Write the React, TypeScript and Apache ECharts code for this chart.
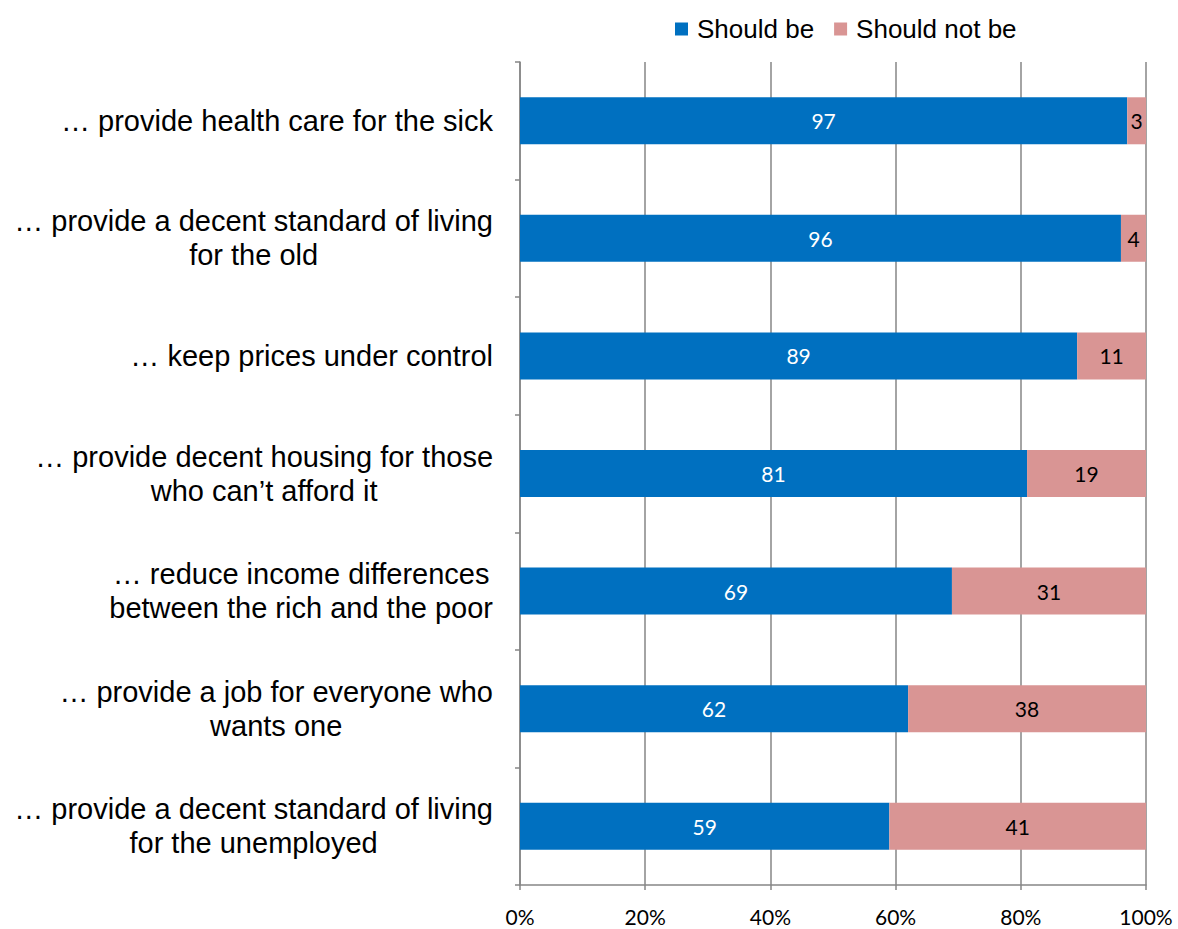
import React, { useEffect, useRef } from "react";
import * as echarts from "echarts";

const categories: string[][] = [
  ["… provide health care for the sick"],
  ["… provide a decent standard of living", "for the old"],
  ["… keep prices under control"],
  ["… provide decent housing for those", "who can’t afford it"],
  ["… reduce income differences", "between the rich and the poor"],
  ["… provide a job for everyone who", "wants one"],
  ["… provide a decent standard of living", "for the unemployed"],
];
const shouldBe: number[] = [97, 96, 89, 81, 69, 62, 59];
const shouldNotBe: number[] = [3, 4, 11, 19, 31, 38, 41];
const seriesNames = ["Should be", "Should not be"];
const xTicks = { min: 0, max: 100, interval: 20 };

export default function App() {
  const ref = useRef<HTMLDivElement>(null);
  useEffect(() => {
    if (!ref.current) return;
    const chart = echarts.init(ref.current, undefined, { renderer: "svg" });
    const labelFont = "Lato, 'Open Sans', sans-serif";
    chart.setOption({
      animation: false,
      backgroundColor: "#ffffff",
      legend: {
        top: 16,
        left: 675,
        itemWidth: 13,
        itemHeight: 13,
        itemGap: 20,
        icon: "rect",
        data: seriesNames,
        textStyle: { fontFamily: "'Liberation Sans', Arial, sans-serif", fontSize: 26, color: "#000", padding: [0, 0, 0, 4] },
        padding: 0,
      },
      grid: { left: 520, right: 32, top: 62, bottom: 44 },
      xAxis: {
        type: "value",
        min: xTicks.min,
        max: xTicks.max,
        interval: xTicks.interval,
        axisLine: { show: true, lineStyle: { color: "#868686", width: 1.5 } },
        axisTick: { show: true, length: 5, lineStyle: { color: "#868686", width: 1.5 } },
        splitLine: { show: true, lineStyle: { color: "#868686", width: 1.5 } },
        axisLabel: {
          formatter: "{value}%",
          margin: 21,
          fontFamily: labelFont,
          fontSize: 21,
          color: "#000",
        },
      },
      yAxis: {
        type: "category",
        inverse: true,
        data: categories.map((c) => c.join("\n")),
        axisLine: { show: true, lineStyle: { color: "#868686", width: 1.5 } },
        axisTick: { show: true, length: 5, lineStyle: { color: "#868686", width: 1.5 } },
        axisLabel: {
          margin: 27,
          formatter: (v: string) => v.split("\n").map((l) => `{c|${l}}`).join("\n"),
          rich: {
            c: {
              align: "center",
              fontFamily: "'Liberation Sans', Arial, sans-serif",
              fontSize: 29,
              lineHeight: 34,
              color: "#000",
            },
          },
        },
      },
      series: [
        {
          name: seriesNames[0],
          type: "bar",
          stack: "total",
          barWidth: 47,
          data: shouldBe,
          itemStyle: { color: "#0070C0" },
          label: {
            show: true,
            position: "inside",
            color: "#fff",
            fontFamily: labelFont,
            fontSize: 21,
          },
        },
        {
          name: seriesNames[1],
          type: "bar",
          stack: "total",
          barWidth: 47,
          data: shouldNotBe,
          itemStyle: { color: "#D99594" },
          label: {
            show: true,
            position: "inside",
            color: "#000",
            fontFamily: labelFont,
            fontSize: 21,
          },
        },
      ],
    });
    return () => chart.dispose();
  }, []);
  return <div ref={ref} style={{ width: 1178, height: 929, position: "absolute", left: 0, top: 0 }} />;
}
